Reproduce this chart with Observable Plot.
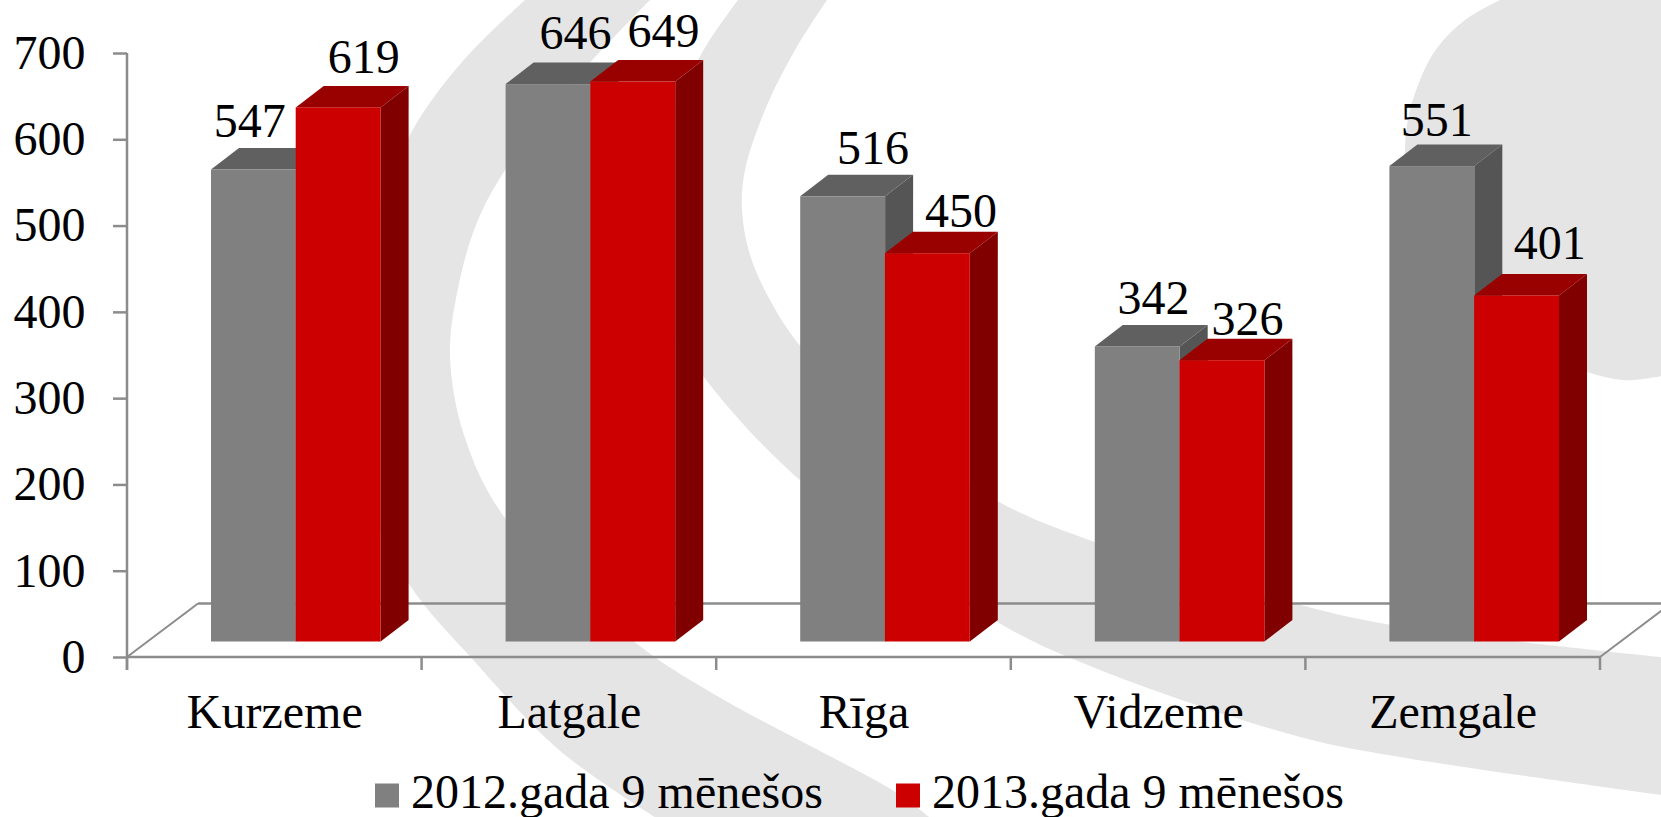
<!DOCTYPE html>
<html lang="lv">
<head>
<meta charset="utf-8">
<script src="https://cdn.jsdelivr.net/npm/d3@7"></script>
<script src="https://cdn.jsdelivr.net/npm/@observablehq/plot@0.6"></script>
<style>
  html, body { margin: 0; padding: 0; background: #fff; overflow: hidden; width: 1661px; height: 817px; }
  body { position: relative; font-family: "Liberation Serif", "Times New Roman", serif; color: #000; }
  #swirl { position: absolute; left: 0; top: 0; }
  #chart { position: absolute; left: 0; top: 0; }
  #legend { position: absolute; left: 375px; top: 768px; display: flex; align-items: center; font-size: 48px; line-height: 47px; white-space: nowrap; }
  .swatch { display: inline-block; width: 24px; height: 24px; margin-right: 12px; transform: translateY(3.5px); }
  .entry { display: flex; align-items: center; margin-right: 73px; }
</style>
</head>
<body>
<svg id="swirl" width="1661" height="817"></svg>
<div id="chart"></div>
<div id="legend"></div>
<script>
const regions = ["Kurzeme", "Latgale", "Rīga", "Vidzeme", "Zemgale"];
const values2012 = [547, 646, 516, 342, 551];
const values2013 = [619, 649, 450, 326, 401];
const seriesNames = ["2012.gada 9 mēnešos", "2013.gada 9 mēnešos"];
const yTicks = [0, 100, 200, 300, 400, 500, 600, 700];

// Hand placement of the value labels, as in the reference (px from band centre / value height)
const labelDx2012 = [-25, 6, 9, -5, -16.5];
const labelDx2013 = [89, 94, 97, 89, 96.5];
const labelDy2012 = [-49, -51, -48, -48, -46];
const labelDy2013 = [-50, -51, -42, -41, -52];

const colors = {
  gray: {front: "#808080", top: "#606060", side: "#555555"},
  red: {front: "#cc0000", top: "#990000", side: "#800000"}
};
const axisColor = "#8c8c8c";

// Decorative background swirl
const crescents = [
  {outer: [[525,0],[462,62],[411,133],[368,240],[345,360],[362,480],[407,581],[476,663],[559,750],[655,817]],
   inner: [[929,817],[897,793],[719,697],[636,643],[505,518],[464,435],[450,356],[457,293],[476,225],[505,170],[570,85],[650,0]]},
  {outer: [[738,0],[703,51],[665,130],[645,210],[655,300],[703,376],[802,482],[999,623],[1100,670],[1300,737],[1400,757],[1661,795]],
   inner: [[1661,657],[1392,625],[1293,603],[1095,542],[999,502],[885,425],[802,348],[770,300],[750,255],[742,210],[745,170],[765,110],[795,50],[827,0]]}
];
const blob = [[1500,0],[1465,20],[1437,48],[1418,85],[1407,125],[1406,170],[1425,250],[1480,315],[1560,362],[1623,380],[1661,376]];
const curve = d3.line().curve(d3.curveCatmullRom.alpha(0.5));
const swirl = d3.select("#swirl");
for (const c of crescents) {
  swirl.append("path").attr("fill", "#e5e5e5")
    .attr("d", curve(c.outer) + "L" + curve(c.inner).slice(1) + "Z");
}
swirl.append("path").attr("fill", "#e5e5e5").attr("d", curve(blob) + "L1661,0Z");

// 3D extrusion of the bar faces
const depthX = 28, depthY = 21.5;
function extrude(palette) {
  return function (index, scales, values, dimensions, context, next) {
    const g = next(index, scales, values, dimensions, context);
    d3.select(g).selectAll("rect").each(function () {
      const x = +this.getAttribute("x"), y = +this.getAttribute("y");
      const w = +this.getAttribute("width"), h = +this.getAttribute("height");
      const add = (fill, pts) => {
        const p = document.createElementNS("http://www.w3.org/2000/svg", "polygon");
        p.setAttribute("fill", fill);
        p.setAttribute("points", pts.map(d => d.join(",")).join(" "));
        g.insertBefore(p, this);
      };
      add(palette.side, [[x+w,y],[x+w+depthX,y-depthY],[x+w+depthX,y+h-depthY],[x+w,y+h]]);
      add(palette.top, [[x,y],[x+depthX,y-depthY],[x+w+depthX,y-depthY],[x+w,y]]);
    });
    return g;
  };
}

// Axis lines, tick marks and the floor of the 3D chart
function frame(index, {x, y}, values, dimensions) {
  const bw = x.bandwidth();
  const x0 = x(regions[0]), x1 = x(regions[regions.length - 1]) + bw;
  const y0 = y(0), y1 = y(700);
  const g = d3.create("svg:g").attr("fill", "none").attr("stroke", axisColor);
  const floorX = 71, floorY = 53.5;
  g.append("path").attr("stroke-width", 2)
    .attr("d", `M${x0},${y0}L${x0 + floorX},${y0 - floorY}M${x1},${y0}L${x1 + floorX},${y0 - floorY}`);
  g.append("path").attr("stroke-width", 2.5)
    .attr("d", `M${x0 + floorX},${y0 - floorY}L${dimensions.width},${y0 - floorY}`);
  g.append("path").attr("stroke-width", 2.5)
    .attr("d", `M${x0},${y1}V${y0 + 13}M${x0},${y0}H${x1}`);
  for (const r of [...regions.map(x), x1]) {
    g.append("path").attr("stroke-width", 2.5).attr("d", `M${r},${y0}V${y0 + 13}`);
  }
  return g.node();
}

const rows2012 = regions.map((r, i) => ({region: r, value: values2012[i], dx: labelDx2012[i], dy: labelDy2012[i]}));
const rows2013 = regions.map((r, i) => ({region: r, value: values2013[i], dx: labelDx2013[i], dy: labelDy2013[i]}));
const labelMarks = [...rows2012, ...rows2013].map(d =>
  Plot.text([d], {x: "region", y: "value", text: d => String(d.value), dx: d.dx, dy: d.dy,
    lineAnchor: "bottom", textAnchor: "middle", fontSize: 48, fill: "#000"}));

const barCommon = {x: "region", y: "value", dx: 21.5, dy: -15.5};
const chart = Plot.plot({
  width: 1661,
  height: 745,
  marginLeft: 127,
  marginRight: 61,
  marginTop: 53,
  marginBottom: 88,
  style: {background: "transparent", fontFamily: "'Liberation Serif', 'Times New Roman', serif", color: "#000"},
  x: {domain: regions, padding: 0, round: false, label: null},
  y: {domain: [0, 700], label: null},
  marks: [
    frame,
    Plot.axisY(yTicks, {tickSize: 14, tickPadding: 28, stroke: axisColor, strokeWidth: 2.5, fill: "#000", fontSize: 48, label: null}),
    Plot.axisX({tickSize: 0, tickPadding: 36, fill: "#000", fontSize: 48, label: null}),
    Plot.barY(rows2012, {...barCommon, insetLeft: 62.5, insetRight: 147.2, fill: colors.gray.front, render: extrude(colors.gray)}),
    Plot.barY(rows2013, {...barCommon, insetLeft: 147.2, insetRight: 62.5, fill: colors.red.front, render: extrude(colors.red)}),
    ...labelMarks
  ]
});
document.getElementById("chart").append(chart);

const legend = d3.select("#legend");
[colors.gray.front, colors.red.front].forEach((c, i) => {
  const e = legend.append("div").attr("class", "entry");
  e.append("span").attr("class", "swatch").style("background", c);
  e.append("span").text(seriesNames[i]);
});
</script>
</body>
</html>
